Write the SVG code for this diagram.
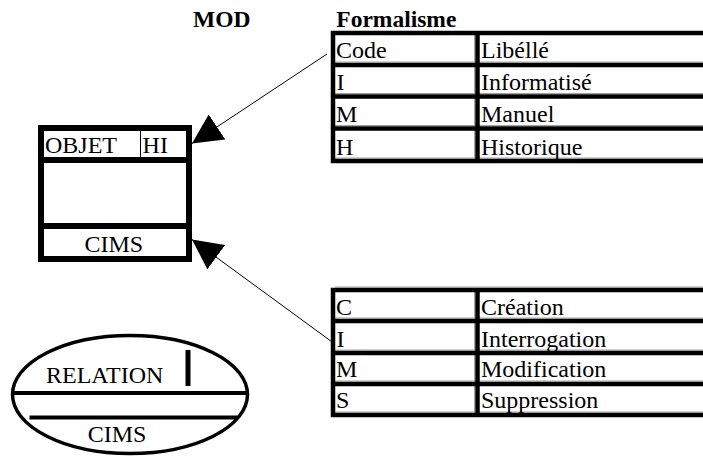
<svg xmlns="http://www.w3.org/2000/svg" width="703" height="457" viewBox="0 0 703 457" font-family="'Liberation Serif', 'Times New Roman', serif">
  <style>
    text { font-family: 'Liberation Serif', 'Times New Roman', serif; font-size: 24px; fill: #000; }
    .b { font-weight: bold; font-size: 23.5px; }
    .thick { stroke: #000; stroke-width: 6; fill: none; }
    .grid { stroke: #000; stroke-width: 4.5; fill: none; }
    .shade { stroke: #a0a0a0; stroke-width: 1; fill: none; }
    .conn { stroke: #000; stroke-width: 1; fill: none; }
  </style>
  <defs>
    <marker id="head" viewBox="0 0 30 30" refX="30" refY="15" markerWidth="30" markerHeight="30" markerUnits="userSpaceOnUse" orient="auto">
      <path d="M0,0 L30,15 L0,30 Z" fill="#000"/>
    </marker>
  </defs>
  <rect width="703" height="457" fill="#fff"/>

  <!-- headings -->
  <text class="b" x="193" y="26.7">MOD</text>
  <text class="b" x="336.3" y="26.7">Formalisme</text>

  <!-- entity box -->
  <g id="objet">
    <rect x="41" y="128" width="148" height="131" class="thick"/>
    <line x1="41" y1="160" x2="189" y2="160" class="thick"/>
    <line x1="41" y1="226" x2="189" y2="226" class="thick"/>
    <line x1="140.5" y1="131" x2="140.5" y2="157" class="conn"/>
    <text x="45" y="152.7">OBJET</text>
    <text x="142.6" y="152.7">HI</text>
    <text x="84.5" y="251.7">CIMS</text>
  </g>

  <!-- relation ellipse -->
  <g id="relation">
    <ellipse cx="130" cy="394.5" rx="117.5" ry="59" stroke="#000" stroke-width="3.5" fill="none"/>
    <line x1="12.5" y1="393" x2="247.5" y2="393" stroke="#000" stroke-width="4"/>
    <line x1="29.5" y1="417.5" x2="238" y2="417.5" stroke="#000" stroke-width="4"/>
    <line x1="188" y1="350" x2="188" y2="386" stroke="#000" stroke-width="5"/>
    <text x="46" y="383.3">RELATION</text>
    <text x="87.7" y="441.7">CIMS</text>
  </g>

  <!-- formalism table -->
  <g id="formalisme">
    <line x1="474.5" y1="35" x2="474.5" y2="159" class="shade"/>
    <line x1="335" y1="62" x2="703" y2="62" class="shade"/>
    <line x1="335" y1="93.5" x2="703" y2="93.5" class="shade"/>
    <line x1="335" y1="125.5" x2="703" y2="125.5" class="shade"/>
    <line x1="335" y1="158" x2="703" y2="158" class="shade"/>
    <path d="M710,33 H333 V161 H710" class="grid"/>
    <line x1="333" y1="65" x2="710" y2="65" class="grid"/>
    <line x1="333" y1="96.5" x2="710" y2="96.5" class="grid"/>
    <line x1="333" y1="128.5" x2="710" y2="128.5" class="grid"/>
    <line x1="477.5" y1="33" x2="477.5" y2="161" class="grid"/>
    <text x="336" y="58.3">Code</text>
    <text x="481" y="58.3">Libéllé</text>
    <text x="336.5" y="90">I</text>
    <text x="481" y="90">Informatisé</text>
    <text x="336" y="121.7">M</text>
    <text x="481" y="121.7">Manuel</text>
    <text x="336" y="155">H</text>
    <text x="481" y="155">Historique</text>
  </g>

  <!-- access modes table -->
  <g id="cims">
    <line x1="335" y1="287" x2="703" y2="287" class="shade"/>
    <line x1="474.5" y1="292" x2="474.5" y2="413" class="shade"/>
    <line x1="335" y1="318" x2="703" y2="318" class="shade"/>
    <line x1="335" y1="350" x2="703" y2="350" class="shade"/>
    <line x1="335" y1="381" x2="703" y2="381" class="shade"/>
    <line x1="335" y1="412" x2="703" y2="412" class="shade"/>
    <path d="M710,290 H333 V415 H710" class="grid"/>
    <line x1="333" y1="321" x2="710" y2="321" class="grid"/>
    <line x1="333" y1="353" x2="710" y2="353" class="grid"/>
    <line x1="333" y1="384" x2="710" y2="384" class="grid"/>
    <line x1="477.5" y1="290" x2="477.5" y2="415" class="grid"/>
    <text x="336" y="315">C</text>
    <text x="481" y="315">Création</text>
    <text x="336.5" y="346.7">I</text>
    <text x="481" y="346.7">Interrogation</text>
    <text x="336" y="377">M</text>
    <text x="481" y="377">Modification</text>
    <text x="336" y="407.5">S</text>
    <text x="481" y="407.5">Suppression</text>
  </g>

  <!-- connectors -->
  <g id="connectors">
    <line x1="327" y1="54" x2="192" y2="143.5" class="conn" marker-end="url(#head)"/>
    <line x1="331.5" y1="341.5" x2="192" y2="239.5" class="conn" marker-end="url(#head)"/>
  </g>
</svg>
